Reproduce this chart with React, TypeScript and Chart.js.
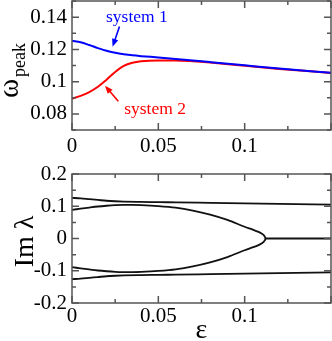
import React, { useEffect, useRef } from 'react';
import { Chart, registerables } from 'chart.js';

Chart.register(...registerables);

const SERIF = "'Liberation Serif', 'Times New Roman', Times, serif";
const FRAME = '#555555';

// ---------- top panel data (omega_peak vs epsilon) ----------
const epsTop = [0, 0.005, 0.01, 0.015, 0.02, 0.025, 0.03, 0.035, 0.04, 0.05, 0.06, 0.07, 0.08, 0.1, 0.12, 0.15];
const system1 = [0.1253, 0.1244, 0.1227, 0.1208, 0.1191, 0.1179, 0.1170, 0.1163, 0.1158, 0.1150, 0.1141, 0.1131, 0.1121, 0.1101, 0.1081, 0.1055];
const system2 = [0.0894, 0.0912, 0.0935, 0.0968, 0.1012, 0.1060, 0.1098, 0.1117, 0.1126, 0.1131, 0.1131, 0.1126, 0.1118, 0.1098, 0.1079, 0.1054];

// ---------- bottom panel data (Im lambda vs epsilon) ----------
const epsOuter = [0, 0.005, 0.01, 0.015, 0.02, 0.025, 0.03, 0.04, 0.05, 0.06, 0.08, 0.1, 0.12, 0.15];
const imOuterUpper = [0.126, 0.1245, 0.122, 0.1195, 0.117, 0.1155, 0.1145, 0.1135, 0.1128, 0.112, 0.1105, 0.109, 0.1075, 0.1052];
const imOuterLower = [-0.126, -0.1245, -0.122, -0.1195, -0.117, -0.1155, -0.1145, -0.1135, -0.1128, -0.112, -0.1105, -0.109, -0.1075, -0.1052];

const epsInner = [0, 0.005, 0.01, 0.015, 0.02, 0.025, 0.03, 0.035, 0.04, 0.05, 0.06, 0.07, 0.08, 0.09, 0.1, 0.105, 0.108, 0.11, 0.111, 0.1116, 0.1119];
const imInnerUpper = [0.089, 0.0925, 0.096, 0.0992, 0.1015, 0.1032, 0.104, 0.1042, 0.1036, 0.1005, 0.0955, 0.0865, 0.074, 0.0575, 0.0365, 0.027, 0.0205, 0.0145, 0.0105, 0.0065, 0.0035];
const imInnerLower = [-0.089, -0.0925, -0.096, -0.0992, -0.1015, -0.1032, -0.104, -0.1042, -0.1036, -0.1005, -0.0955, -0.0865, -0.074, -0.0575, -0.0365, -0.027, -0.0205, -0.0145, -0.0105, -0.0065, -0.0035];
const epsBifurcation = 0.112;

const epsZero = [0.112, 0.15];
const imZero = [0, 0];

// ---------- ticks ----------
const xTickValues = [0, 0.05, 0.1];
const xMajorMarks = [0, 0.05, 0.1, 0.15];
const xMinorMarks = [0.025, 0.075, 0.125];
const yTopTickValues = [0.08, 0.1, 0.12, 0.14];
const yTopMinorMarks = [0.07, 0.09, 0.11, 0.13, 0.15];
const yBottomTickValues = [-0.2, -0.1, 0, 0.1, 0.2];
const yBottomMinorMarks = [-0.15, -0.05, 0.05, 0.15];

// ---------- annotations (data coordinates) ----------
const labelSystem1 = { text: 'system 1', x: 0.0197, y: 0.1371 };
const arrowSystem1 = { from: [0.0275, 0.1342], to: [0.0235, 0.1216] };
const labelSystem2 = { text: 'system 2', x: 0.0302, y: 0.0801 };
const arrowSystem2 = { from: [0.0268, 0.0878], to: [0.0191, 0.0975] };

const pts = (xs: number[], ys: number[]) => xs.map((x, i) => ({ x, y: ys[i] }));

function drawArrow(ctx: CanvasRenderingContext2D, x1: number, y1: number, x2: number, y2: number, color: string) {
  const ang = Math.atan2(y2 - y1, x2 - x1);
  const L = 8, W = 3.2;
  ctx.save();
  ctx.strokeStyle = color;
  ctx.fillStyle = color;
  ctx.lineWidth = 1.6;
  ctx.beginPath();
  ctx.moveTo(x1, y1);
  ctx.lineTo(x2 - Math.cos(ang) * L * 0.8, y2 - Math.sin(ang) * L * 0.8);
  ctx.stroke();
  ctx.beginPath();
  ctx.moveTo(x2, y2);
  ctx.lineTo(x2 - Math.cos(ang) * L - Math.sin(ang) * W, y2 - Math.sin(ang) * L + Math.cos(ang) * W);
  ctx.lineTo(x2 - Math.cos(ang) * L + Math.sin(ang) * W, y2 - Math.sin(ang) * L - Math.cos(ang) * W);
  ctx.closePath();
  ctx.fill();
  ctx.restore();
}

function decorPlugin(yMajor: number[], yMinor: number[], extra: (chart: any) => void) {
  return {
    id: 'decor',
    afterDraw(chart: any) {
      const { ctx, chartArea: a, scales } = chart;
      const xs = scales.x, ys = scales.y;
      ctx.save();
      ctx.strokeStyle = FRAME;
      ctx.lineWidth = 1.5;
      ctx.beginPath();
      const major = 7, minor = 4;
      const tx = (vals: number[], len: number) => vals.forEach(v => {
        const p = xs.getPixelForValue(v);
        ctx.moveTo(p, a.bottom); ctx.lineTo(p, a.bottom - len);
        ctx.moveTo(p, a.top); ctx.lineTo(p, a.top + len);
      });
      const ty = (vals: number[], len: number) => vals.forEach(v => {
        const p = ys.getPixelForValue(v);
        ctx.moveTo(a.left, p); ctx.lineTo(a.left + len, p);
        ctx.moveTo(a.right, p); ctx.lineTo(a.right - len, p);
      });
      tx(xMajorMarks, major); tx(xMinorMarks, minor);
      ty(yMajor, major); ty(yMinor, minor);
      ctx.stroke();
      ctx.strokeRect(a.left, a.top, a.right - a.left, a.bottom - a.top);
      ctx.restore();
      extra(chart);
    },
  };
}

function scaleX(labelPad: number, height: number) {
  return {
    type: 'linear' as const,
    min: 0,
    max: 0.15,
    grid: { display: false, drawTicks: false },
    border: { display: false },
    ticks: { font: { family: SERIF, size: 21 }, color: '#000', padding: labelPad, maxRotation: 0, autoSkip: false, callback: (v: any) => String(v) },
    afterBuildTicks: (s: any) => { s.ticks = xTickValues.map(v => ({ value: v })); },
    afterFit: (s: any) => { s.height = height; s.paddingLeft = 0; s.paddingRight = 0; s.paddingTop = 0; s.paddingBottom = 0; },
  };
}

function scaleY(min: number, max: number, values: number[]) {
  return {
    type: 'linear' as const,
    min,
    max,
    grid: { display: false, drawTicks: false },
    border: { display: false },
    ticks: { font: { family: SERIF, size: 21 }, color: '#000', padding: 5, autoSkip: false, callback: (v: any) => String(v) },
    afterBuildTicks: (s: any) => { s.ticks = values.map(v => ({ value: v })); },
    afterFit: (s: any) => { s.width = 72; s.paddingLeft = 0; s.paddingRight = 0; s.paddingTop = 0; s.paddingBottom = 0; },
  };
}

export default function App() {
  const topRef = useRef<HTMLCanvasElement>(null);
  const botRef = useRef<HTMLCanvasElement>(null);

  useEffect(() => {
    const common = {
      responsive: false,
      animation: false as const,
      devicePixelRatio: 1,
      plugins: { legend: { display: false }, tooltip: { enabled: false } },
    };

    const top = new Chart(topRef.current!, {
      type: 'line',
      data: {
        datasets: [
          { data: pts(epsTop, system1), borderColor: '#0000ff', borderWidth: 2, pointRadius: 0, cubicInterpolationMode: 'monotone' },
          { data: pts(epsTop, system2), borderColor: '#ff0000', borderWidth: 2, pointRadius: 0, cubicInterpolationMode: 'monotone' },
        ],
      },
      options: {
        ...common,
        layout: { padding: { top: 1, right: 1, bottom: 171, left: 0 } },
        scales: { x: scaleX(4, 40), y: scaleY(0.07, 0.15, yTopTickValues) },
      } as any,
      plugins: [
        decorPlugin(yTopTickValues, yTopMinorMarks, (chart: any) => {
          const { ctx, scales, chartArea: a } = chart;
          const xs = scales.x, ys = scales.y;
          ctx.save();
          ctx.font = `17.5px ${SERIF}`;
          ctx.textBaseline = 'alphabetic';
          ctx.textAlign = 'left';
          ctx.fillStyle = '#0000ff';
          ctx.fillText(labelSystem1.text, xs.getPixelForValue(labelSystem1.x), ys.getPixelForValue(labelSystem1.y));
          ctx.fillStyle = '#ff0000';
          ctx.fillText(labelSystem2.text, xs.getPixelForValue(labelSystem2.x), ys.getPixelForValue(labelSystem2.y));
          ctx.restore();
          drawArrow(ctx, xs.getPixelForValue(arrowSystem1.from[0]), ys.getPixelForValue(arrowSystem1.from[1]),
            xs.getPixelForValue(arrowSystem1.to[0]), ys.getPixelForValue(arrowSystem1.to[1]), '#0000ff');
          drawArrow(ctx, xs.getPixelForValue(arrowSystem2.from[0]), ys.getPixelForValue(arrowSystem2.from[1]),
            xs.getPixelForValue(arrowSystem2.to[0]), ys.getPixelForValue(arrowSystem2.to[1]), '#ff0000');
          // y axis title: omega_peak
          ctx.save();
          ctx.fillStyle = '#000';
          ctx.translate(a.left - 54.5, 98);
          ctx.rotate(-Math.PI / 2);
          ctx.font = `29px ${SERIF}`;
          ctx.textBaseline = 'alphabetic';
          ctx.textAlign = 'left';
          ctx.fillText('ω', 0, 0);
          const w = ctx.measureText('ω').width;
          ctx.font = `18px ${SERIF}`;
          ctx.fillText('peak', w + 2, 7);
          ctx.restore();
        }),
      ],
    });

    const loop = [...pts(epsInner, imInnerUpper), { x: epsBifurcation, y: 0 }, ...pts(epsInner, imInnerLower).reverse()];

    const bottom = new Chart(botRef.current!, {
      type: 'line',
      data: {
        datasets: [
          { data: pts(epsOuter, imOuterUpper), borderColor: '#111', borderWidth: 1.8, pointRadius: 0, cubicInterpolationMode: 'monotone' },
          { data: pts(epsOuter, imOuterLower), borderColor: '#111', borderWidth: 1.8, pointRadius: 0, cubicInterpolationMode: 'monotone' },
          { data: loop, borderColor: '#111', borderWidth: 1.8, pointRadius: 0, tension: 0.3 },
          { data: pts(epsZero, imZero), borderColor: '#111', borderWidth: 1.8, pointRadius: 0 },
        ],
      },
      options: {
        ...common,
        layout: { padding: { top: 174, right: 1, bottom: 0, left: 0 } },
        scales: { x: scaleX(1, 38), y: scaleY(-0.2, 0.2, yBottomTickValues) },
      } as any,
      plugins: [
        decorPlugin(yBottomTickValues, yBottomMinorMarks, (chart: any) => {
          const { ctx, chartArea: a } = chart;
          ctx.save();
          ctx.fillStyle = '#000';
          ctx.font = `28px ${SERIF}`;
          ctx.textAlign = 'center';
          ctx.textBaseline = 'alphabetic';
          ctx.fillText('ε', (a.left + a.right) / 2, 338);
          ctx.translate(a.left - 39, (a.top + a.bottom) / 2 + 3);
          ctx.rotate(-Math.PI / 2);
          ctx.fillText('Im λ', 0, 0);
          ctx.restore();
        }),
      ],
    });

    return () => { top.destroy(); bottom.destroy(); };
  }, []);

  const cs: React.CSSProperties = { position: 'absolute', left: 0, top: 0, width: 332, height: 341 };
  return (
    <div style={{ position: 'absolute', left: 0, top: 0, width: 332, height: 341, background: '#fff' }}>
      <canvas ref={topRef} width={332} height={341} style={cs} />
      <canvas ref={botRef} width={332} height={341} style={cs} />
    </div>
  );
}
